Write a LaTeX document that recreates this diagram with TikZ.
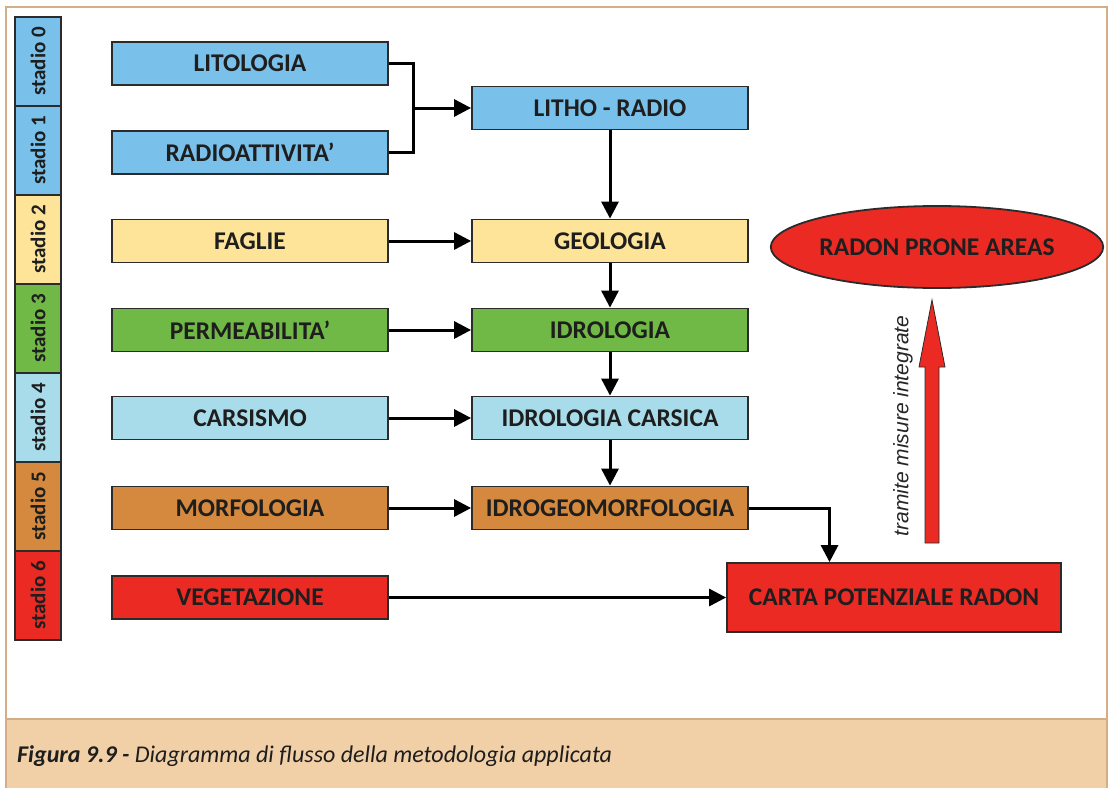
\documentclass[tikz,border=0pt]{standalone}
\usepackage{fontspec}
\setmainfont{Carlito}
\newfontfamily\arialfont{Liberation Sans}
\usetikzlibrary{arrows.meta,shapes.geometric,calc}
\definecolor{cblue}{HTML}{79C0EB}
\definecolor{cyellow}{HTML}{FDE499}
\definecolor{cgreen}{HTML}{71B946}
\definecolor{clblue}{HTML}{A9DCEB}
\definecolor{cbrown}{HTML}{D4893F}
\definecolor{cred}{HTML}{EC2A24}
\definecolor{frameline}{HTML}{D5AE86}
\definecolor{capfill}{HTML}{F2D0A7}
\definecolor{capline}{HTML}{D2AE88}
\definecolor{boxline}{HTML}{2B2B2B}
\definecolor{txt}{HTML}{1E1E1E}
\begin{document}
\begin{tikzpicture}[x=1pt,y=-1pt,
  box/.style={draw=boxline, line width=1.8pt, minimum width=276pt, minimum height=43pt,
    inner sep=0pt, font=\fontsize{25.5}{30}\selectfont\bfseries, text=txt},
  stadiobox/.style={draw=boxline, line width=1.8pt, minimum width=46pt, minimum height=89pt,
    inner sep=0pt, text=txt},
  stadiolabel/.style={rotate=90, font=\fontsize{21}{25}\selectfont\bfseries, text=txt, inner sep=0pt},
  conn/.style={draw=black, line width=3pt, -{Triangle[length=17pt,width=17pt]}},
  plain/.style={draw=black, line width=3pt}]
\useasboundingbox (0,0) rectangle (1108,787);
% frame
\fill[white] (0,0) rectangle (1108,787);
\begin{scope}
\clip (0,0) rectangle (1108,787);
\fill[capfill] (6,719) rectangle (1107,800);
\draw[capline, line width=2pt] (6,719) -- (1107,719);
\draw[frameline, line width=2.5pt] (6,800) -- (6,7) -- (1107,7) -- (1107,800);
\end{scope}
% stadio bar
\foreach \i/\c in {0/cblue,1/cblue,2/cyellow,3/cgreen,4/clblue,5/cbrown,6/cred}{
  \node[stadiobox, fill=\c] (s\i) at (38,{61.5+89*\i}) {};
  \node[stadiolabel] (sl\i) at (s\i) {stadio \i};
}
% left column
\node[box, fill=cblue]   (lito)  at (250,63.5)  {LITOLOGIA};
\node[box, fill=cblue]   (radio) at (250,152.5) {RADIOATTIVITA’};
\node[box, fill=cyellow] (faglie) at (250,241)  {FAGLIE};
\node[box, fill=cgreen]  (perm)  at (250,330)   {PERMEABILITA’};
\node[box, fill=clblue]  (cars)  at (250,418)   {CARSISMO};
\node[box, fill=cbrown]  (morf)  at (250,508)   {MORFOLOGIA};
\node[box, fill=cred]    (veg)   at (250,597.5) {VEGETAZIONE};
% middle column
\node[box, fill=cblue]   (litho) at (610,108)   {LITHO - RADIO};
\node[box, fill=cyellow] (geo)   at (610,241)   {GEOLOGIA};
\node[box, fill=cgreen]  (idro)  at (610,330)   {IDROLOGIA};
\node[box, fill=clblue]  (idroc) at (610,418)   {IDROLOGIA CARSICA};
\node[box, fill=cbrown]  (idrog) at (610,508)   {IDROGEOMORFOLOGIA};
% right
\node[box, fill=cred, minimum width=334pt, minimum height=69pt] (carta) at (894,597.5) {CARTA POTENZIALE RADON};
\node[ellipse, draw=boxline, line width=1.8pt, fill=cred, minimum width=312pt, minimum height=82pt,
  inner sep=0pt, font=\fontsize{25.5}{30}\selectfont\bfseries, text=txt] (rpa) at (937,247) {RADON PRONE AREAS};
% connectors
\coordinate (jn) at (413,108);
\draw[plain] (lito.east) -| (jn) |- (radio.east);
\draw[conn] (jn) -- (litho.west);
\draw[conn] (faglie.east) -- (geo.west);
\draw[conn] (perm.east) -- (idro.west);
\draw[conn] (cars.east) -- (idroc.west);
\draw[conn] (morf.east) -- (idrog.west);
\draw[conn] (veg.east) -- (carta.west);
\draw[conn] (litho.south) -- (geo.north);
\draw[conn] (geo.south) -- (idro.north);
\draw[conn] (idro.south) -- (idroc.north);
\draw[conn] (idroc.south) -- (idrog.north);
\coordinate (cin) at ($(carta.north west)!0.308!(carta.north east)$);
\draw[conn] (idrog.east) -| (cin);
% fat arrow
\draw[boxline, line width=0.8pt, fill=cred] (925,543) -- (925,367) -- (919,367) -- (932,300)
  -- (945,367) -- (939,367) -- (939,543) -- cycle;
\node[rotate=90, font=\arialfont\itshape\fontsize{21}{25}\selectfont, text=black!85, inner sep=0pt] (tmi) at (903,426) {tramite misure integrate};
% caption
\node[anchor=base west, inner sep=0pt, font=\fontsize{24}{28}\selectfont, text=txt] (cap) at (17,762)
  {\bfseries\itshape Figura 9.9 -\mdseries\ Diagramma di flusso della metodologia applicata};
\end{tikzpicture}
\end{document}
